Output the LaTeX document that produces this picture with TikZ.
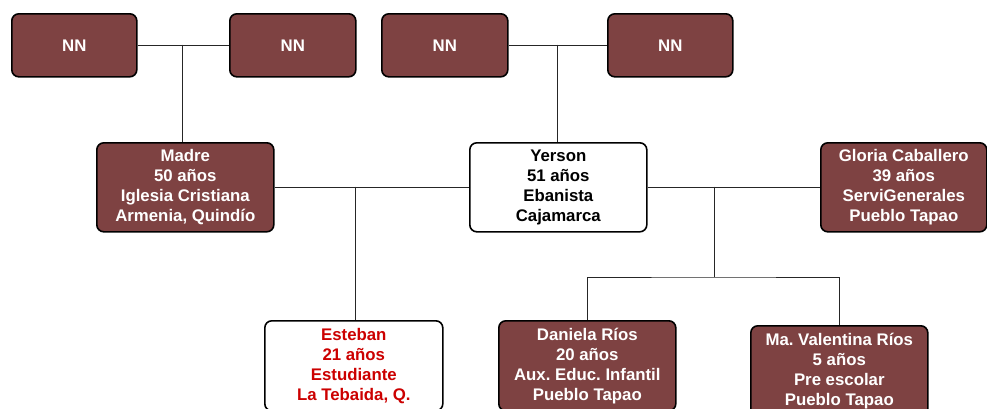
\documentclass[tikz,border=0pt]{standalone}
\usepackage{fontspec}
\setmainfont{Liberation Sans}
\definecolor{maroon}{HTML}{7E4242}
\definecolor{estred}{HTML}{CC0000}
\frenchspacing
\begin{document}
\begin{tikzpicture}[x=1pt,y=-1pt,
  box/.style={draw=black, line width=1.6pt, rounded corners=7pt, inner sep=0pt, align=center,
    font=\frenchspacing\bfseries\fontsize{16.8}{20}\selectfont, anchor=north west},
  filled/.style={box, fill=maroon, text=white},
  plain/.style={box, fill=white, text=black},
  conn/.style={draw=black!85, line width=0.9pt}]
\useasboundingbox (0,0) rectangle (987,408);
\clip (0,0) rectangle (987,408);
% grandparents
\node[filled, minimum width=125pt, minimum height=63pt] (nn1) at (11,13) {NN};
\node[filled, minimum width=126pt, minimum height=63pt] (nn2) at (229,13) {NN};
\node[filled, minimum width=126pt, minimum height=63pt] (nn3) at (381,13) {NN};
\node[filled, minimum width=125pt, minimum height=63pt] (nn4) at (607,13) {NN};
% parents
\node[filled, minimum width=177pt, minimum height=89pt] (madre) at (96,142) {Madre\\50 años\\Iglesia Cristiana\\Armenia, Quindío};
\node[plain, minimum width=177pt, minimum height=89pt] (yerson) at (469,142) {Yerson\\51 años\\Ebanista\\Cajamarca};
\node[filled, minimum width=166pt, minimum height=89pt] (gloria) at (820,142) {Gloria Caballero\\39 años\\ServiGenerales\\Pueblo Tapao};
% children
\node[plain, text=estred, minimum width=178pt, minimum height=90pt] (esteban) at (264,320) {Esteban\\21 años\\Estudiante\\La Tebaida, Q.};
\node[filled, minimum width=177pt, minimum height=90pt] (daniela) at (498,320) {Daniela Ríos\\20 años\\Aux. Educ. Infantil\\Pueblo Tapao};
\node[filled, minimum width=177pt, minimum height=90pt] (valentina) at (750,325) {Ma. Valentina Ríos\\5 años\\Pre escolar\\Pueblo Tapao};
% junctions
\coordinate (j1) at (182,44.5);
\coordinate (j2) at (557,44.5);
\coordinate (j3) at (355,186.5);
\coordinate (j4) at (714,186.5);
\coordinate (j5) at (714,277);
% connectors
\draw[conn] (nn1.east) -- (nn2.west);
\draw[conn] (j1) -- (j1 |- madre.north);
\draw[conn] (nn3.east) -- (nn4.west);
\draw[conn] (j2) -- (j2 |- yerson.north);
\draw[conn] (madre.east) -- (yerson.west);
\draw[conn] (j3) -- (j3 |- esteban.north);
\draw[conn] (yerson.east) -- (gloria.west);
\draw[conn] (j4) -- (j5);
\draw[conn] (daniela.north) |- (j5) -| (valentina.north);
\end{tikzpicture}
\end{document}
